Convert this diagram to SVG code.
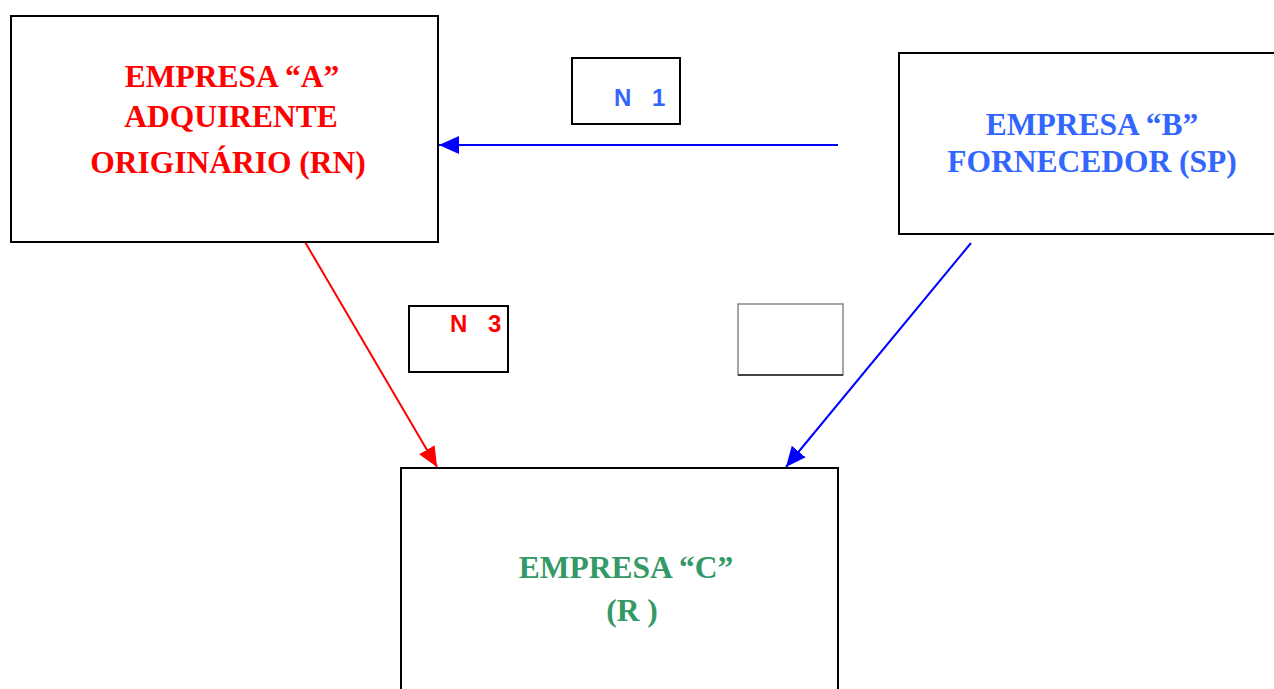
<svg xmlns="http://www.w3.org/2000/svg" width="1274" height="689" viewBox="0 0 1274 689">
<style>
.box{fill:#fff;stroke:#000;stroke-width:2}
.t{font-family:"Liberation Serif",serif;font-weight:bold;font-size:31.5px;text-anchor:middle}
.s{font-family:"Liberation Sans",sans-serif;font-weight:bold;font-size:24px}
</style>
<defs>
<marker id="ab" markerUnits="userSpaceOnUse" markerWidth="22" markerHeight="20" refX="20" refY="9" orient="auto"><path d="M0,0 L20,9 L0,18 Z" fill="#0000FF"/></marker>
<marker id="ar" markerUnits="userSpaceOnUse" markerWidth="22" markerHeight="20" refX="20" refY="9" orient="auto"><path d="M0,0 L20,9 L0,18 Z" fill="#FF0000"/></marker>
</defs>
<rect width="1274" height="689" fill="#fff"/>
<g id="connectors">
<line x1="838" y1="145" x2="439" y2="145" stroke="#0000FF" stroke-width="2" marker-end="url(#ab)"/>
<line x1="305" y1="242" x2="437" y2="467" stroke="#FF0000" stroke-width="2" marker-end="url(#ar)"/>
<line x1="971" y1="243" x2="786" y2="467" stroke="#0000FF" stroke-width="2" marker-end="url(#ab)"/>
</g>
<g id="nodeA">
<rect class="box" x="11" y="16" width="427" height="226"/>
<text class="t" fill="#FF0000" x="232" y="87">EMPRESA “A”</text>
<text class="t" fill="#FF0000" x="231" y="127">ADQUIRENTE</text>
<text class="t" fill="#FF0000" x="228" y="173">ORIGINÁRIO (RN)</text>
</g>
<g id="nodeB">
<rect class="box" x="899" y="53" width="380" height="181"/>
<text class="t" fill="#3366FF" x="1092" y="135">EMPRESA “B”</text>
<text class="t" fill="#3366FF" x="1092" y="172">FORNECEDOR (SP)</text>
</g>
<g id="nodeC">
<rect class="box" x="401" y="468" width="437" height="230"/>
<text class="t" fill="#339966" x="626" y="578">EMPRESA “C”</text>
<text class="t" fill="#339966" x="632" y="621">(R )</text>
</g>
<g id="labelN1">
<rect class="box" x="572" y="58" width="108" height="66"/>
<text class="s" fill="#3366FF" y="106"><tspan x="614">N</tspan><tspan x="652">1</tspan></text>
</g>
<g id="labelN3">
<rect class="box" x="409" y="306" width="99" height="66"/>
<text class="s" fill="#FF0000" y="332"><tspan x="450">N</tspan><tspan x="488">3</tspan></text>
</g>
<g id="emptyBox">
<rect x="738" y="304" width="105" height="71" fill="#fff" stroke="#777" stroke-width="1.3"/>
<line x1="738" y1="375" x2="843" y2="375" stroke="#222" stroke-width="1.3"/>
</g>
</svg>
